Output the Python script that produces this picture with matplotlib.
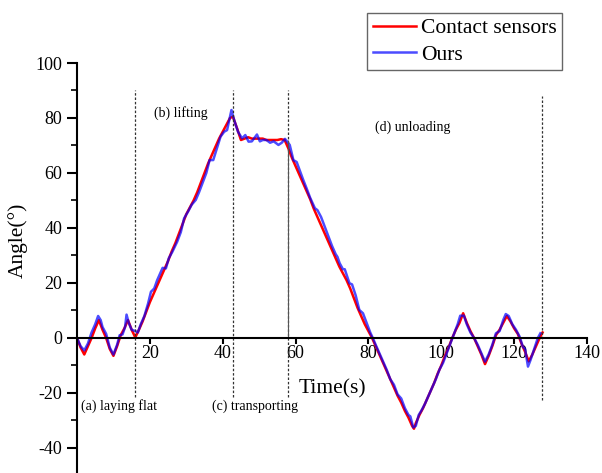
import numpy as np
import matplotlib
matplotlib.use("Agg")
import matplotlib.pyplot as plt

plt.rcParams['font.family'] = ['Liberation Serif', 'DejaVu Serif']
plt.rcParams['axes.unicode_minus'] = False

# contact sensor angle (red)
t_contact = [0, 1, 2, 3, 4, 5, 6, 7, 8, 9, 10, 11, 12, 13, 14, 15, 16, 17, 18, 19,
             20, 21, 22, 23, 24, 25, 26, 27, 28, 29, 30, 31, 32, 33, 34, 35, 36, 37, 38, 39,
             40, 41, 42, 42.8, 44, 45, 46, 47, 48, 49, 50, 51, 52, 53, 54, 55, 56, 57, 58, 59,
             60, 61, 62, 63, 64, 65, 66, 67, 68, 69, 70, 71, 72, 73, 74, 75, 76, 77, 78, 79,
             80, 81, 82, 83, 84, 85, 86, 87, 88, 89, 90, 91, 92, 92.5, 93, 94, 95, 96, 97, 98,
             99, 100, 101, 102, 103, 104, 105, 106, 107, 108, 109, 110, 111, 112, 113, 114, 115, 116, 117, 118,
             119, 120, 121, 122, 123, 124, 125, 126, 127, 127.8]
angle_contact = [0, -3.5, -6, -3, 0, 3.5, 6.5, 3, 0, -4, -6.5, -3, 1, 3.5, 6.5, 3, 0.2, 3, 6, 9.5,
                 13, 16, 19, 22, 25, 28, 31.5, 34.5, 38, 41.5, 45, 47.5, 50, 53, 56.5, 60, 63.5, 66.5, 69.5, 72.5,
                 75, 77.5, 80, 80.5, 76, 72, 72.5, 73, 72.5, 72.5, 72.5, 72.5, 72, 72, 72, 72, 72.3, 72, 69, 65.5,
                 62.5, 59.5, 56.5, 53.5, 50.5, 47, 44, 41, 38, 35, 32, 29, 26, 23.5, 21, 18, 14.5, 11, 8, 5,
                 2.5, 0, -3, -6, -9, -12, -15, -18, -21, -23.5, -26.5, -29, -32, -33, -31, -28, -25.5, -22.5, -19.5, -16.5,
                 -13, -10, -6.5, -3.5, 0, 3, 5.5, 9, 5.5, 2.5, 0, -3, -6, -9.5, -6.5, -3, 1, 3, 5.5, 8,
                 6, 3.5, 1.5, -2, -5, -8.5, -6, -3, 0, 2]

# our estimated angle (blue)
t_ours = [0, 1, 2, 3, 4, 5, 5.8, 6.5, 7, 8, 9, 10, 11, 11.7, 12.5, 13.2, 13.6, 14.2, 15, 16,
          16.7, 17.5, 18.5, 19.5, 20.3, 21.2, 22, 23, 23.5, 24.4, 25.2, 26.2, 27.5, 28.5, 29.4, 30.5, 31.5, 32.6, 33.5, 34.4,
          35.5, 36.4, 37.4, 38.4, 39.4, 40.4, 41.2, 42.4, 43.2, 44.2, 45.3, 46.2, 47.1, 48, 49.4, 50.2, 51, 52, 53, 54,
          55.3, 56.2, 57.1, 58.4, 59.4, 60.3, 61, 62.1, 63, 64, 65.3, 66, 67, 68, 69, 70, 71, 71.5, 72.1, 73,
          73.5, 74.8, 75.5, 76.5, 77.5, 78.5, 79.5, 80.5, 81.2, 82, 83, 84, 85, 86, 87, 88, 89, 90, 91, 91.5,
          92.3, 93, 93.8, 94.5, 95.5, 96.5, 97.5, 98.5, 99.5, 100.5, 101.5, 102.5, 103.5, 104.5, 105.2, 106.2, 107, 108, 109, 110,
          111, 112, 113, 114, 115, 116, 117, 117.7, 118.5, 119.5, 120.5, 121.5, 122.4, 123, 123.8, 124.5, 125.5, 126.5, 127.2]
angle_ours = [0, -3, -4.5, -2, 2, 5, 8, 6.5, 4, 1.5, -3.5, -6, -2.5, 1, 1.3, 4, 8.5, 5.5, 3, 2.5,
              2, 5, 8, 12.5, 16.8, 18, 21, 24, 25.5, 25.3, 29, 31.4, 35, 38.5, 43.5, 46, 48.5, 50.2, 53, 56.2,
              60, 64.7, 64.7, 69, 73.2, 75, 75.6, 82.9, 79, 75, 72.6, 73.8, 71.4, 71.5, 74, 71.5, 72, 72, 71, 71.5,
              70.2, 71, 72.4, 70.2, 64.7, 64, 61.5, 57.5, 54.5, 51, 47.2, 46.5, 44, 40.5, 37, 33.5, 30.5, 29.5, 27.2, 25,
              25, 19.9, 19.5, 15.5, 10.2, 9, 5.5, 2, 0, -2.5, -5.5, -8.5, -11.5, -15, -17, -20.5, -22, -25.5, -28, -28.5,
              -32.5, -32, -28, -26.5, -24, -21, -18, -15, -11.5, -9, -5.5, -2, 1.5, 5, 8.1, 8.1, 5, 2, 0, -2.5,
              -5.5, -8.6, -6, -2.5, 1.7, 2.5, 6.5, 8.7, 8, 5, 3, 0.5, -3.2, -4, -10.4, -8, -4, 0, 1.7]

# phase boundaries (s) and labels
phase_bounds = [16, 42.8, 57.8, 127.6]
phase_labels = ["(a) laying flat", "(b) lifting", "(c) transporting", "(d) unloading"]

fig = plt.figure(figsize=(6.02, 4.73), dpi=100)
ax = fig.add_axes([77 / 602, 0.0, 510 / 602, 410 / 473])

ax.plot(t_contact, angle_contact, color="#ff0000", lw=1.8, label="Contact sensors")
ax.plot(t_ours, angle_ours, color="#0000ff", alpha=0.7, lw=1.8, label="Ours")

# dashed phase markers
ax.vlines(phase_bounds[:3], -21.5, 90, colors="#333333", linestyles=(0, (2, 1.5)), lw=0.9)
ax.vlines(phase_bounds[3], -22.5, 88, colors="#333333", linestyles=(0, (2, 1.5)), lw=0.9)
ax.vlines(phase_bounds[2], 0, 72, colors="#555555", lw=0.8)

ax.text(1.1, -24.7, phase_labels[0], fontsize=10, va="center", ha="left")
ax.text(21.2, 81.8, phase_labels[1], fontsize=10, va="center", ha="left")
ax.text(37.0, -25.0, phase_labels[2], fontsize=10, va="center", ha="left")
ax.text(81.7, 76.7, phase_labels[3], fontsize=10, va="center", ha="left")

ax.set_xlim(0, 140)
ax.set_ylim(-49.1, 100)
ax.spines["top"].set_visible(False)
ax.spines["right"].set_visible(False)
ax.spines["bottom"].set_position(("data", 0))
ax.spines["left"].set_linewidth(1.5)
ax.spines["bottom"].set_linewidth(1.5)

ax.set_xticks(np.arange(20, 141, 20))
ax.set_yticks(np.arange(-40, 101, 20))
ax.set_yticks(np.arange(-40, 101, 10), minor=True)
ax.tick_params(axis="both", which="major", direction="out", width=1.5, labelsize=13)
ax.tick_params(axis="y", which="major", length=7)
ax.tick_params(axis="y", which="minor", direction="out", length=4, width=1.2)
ax.tick_params(axis="x", which="major", length=4, pad=1)

ax.set_xlabel("Time(s)", fontsize=15.5)
ax.xaxis.set_label_coords(0.50, 0.228)
ax.set_ylabel("Angle(°)", fontsize=15.5)
ax.yaxis.label.set_va("center")
ax.yaxis.set_label_coords(-0.116, 0.568)

fig.legend(loc="upper right", bbox_to_anchor=(0.934, 0.9725), fontsize=15.5,
           frameon=True, fancybox=False, edgecolor="#666666", framealpha=1,
           handlelength=2.0, handletextpad=0.25, borderpad=0.25, labelspacing=0.3,
           borderaxespad=0)

fig.savefig("out.png", dpi=100)
